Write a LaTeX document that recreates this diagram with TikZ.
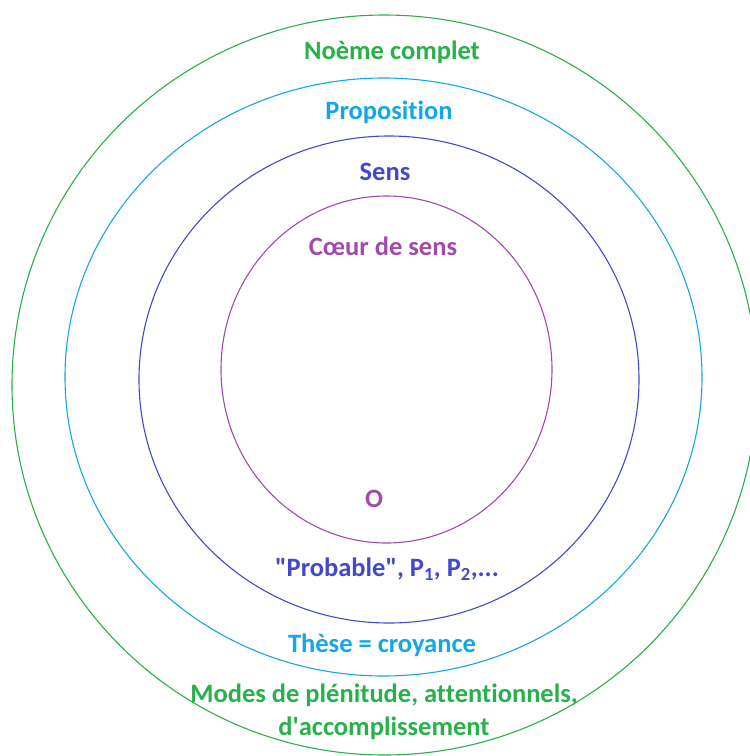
\documentclass[tikz,border=0pt]{standalone}
\usepackage{fontspec}
\setmainfont{Carlito}[Ligatures={TeX,NoCommon}]
\definecolor{cgreen}{RGB}{40,176,74}
\definecolor{cblue}{RGB}{20,166,232}
\definecolor{cdark}{RGB}{66,72,204}
\definecolor{cpurple}{RGB}{162,74,170}
\begin{document}
\begin{tikzpicture}[x=1pt,y=-1pt,
  ring/.style={line width=1.1pt},
  lbl/.style={font=\fontsize{26.5}{33}\selectfont\bfseries, inner sep=0pt, align=center}]
\useasboundingbox (0,0) rectangle (750,756);
\begin{scope}
\clip (0,0) rectangle (750,756);
\draw[ring, cgreen] (384.5,385) ellipse [x radius=372.5, y radius=370];
\draw[ring, cblue] (383.5,377) ellipse [x radius=318.5, y radius=299];
\draw[ring, cdark] (389,379.5) ellipse [x radius=250, y radius=243.5];
\draw[ring, cpurple] (386.5,369.5) ellipse [x radius=165.5, y radius=173.5];
\end{scope}
\node[lbl, text=cgreen] (noeme) at (392,52) {Noème complet};
\node[lbl, text=cblue] (prop) at (389,112) {Proposition};
\node[lbl, text=cdark] (sens) at (385,172) {Sens};
\node[lbl, text=cpurple] (coeur) at (383,246) {Cœur de sens};
\node[lbl, text=cpurple] (o) at (374,499) {O};
\node[lbl, text=cdark] (prob) at (387,569) {\textquotedbl Probable\textquotedbl, P\textsubscript{1}, P\textsubscript{2},...};
\node[lbl, text=cblue] (these) at (382,645) {Thèse = croyance};
\node[lbl, text=cgreen] (modes) at (384,712) {Modes de plénitude, attentionnels,\\ d\textquotesingle accomplissement};
\end{tikzpicture}
\end{document}
